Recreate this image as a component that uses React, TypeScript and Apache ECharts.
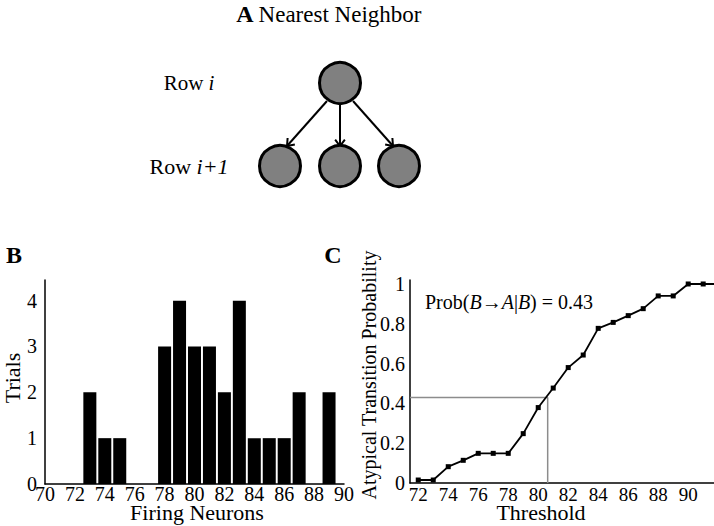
import React, { useEffect, useRef } from "react";
import * as echarts from "echarts";

// Panel B: histogram of firing neurons
const firingNeurons = [70, 71, 72, 73, 74, 75, 76, 77, 78, 79, 80, 81, 82, 83, 84, 85, 86, 87, 88, 89, 90];
const trials = [0, 0, 0, 2, 1, 1, 0, 0, 3, 4, 3, 3, 2, 4, 1, 1, 1, 2, 0, 2, 0];

// Panel C: atypical transition probability vs threshold
const thresholds = [72, 73, 74, 75, 76, 77, 78, 79, 80, 81, 82, 83, 84, 85, 86, 87, 88, 89, 90, 91, 92];
const atypicalProb = [0.015, 0.015, 0.082, 0.114, 0.149, 0.149, 0.149, 0.248, 0.379, 0.477, 0.58, 0.643, 0.777, 0.807, 0.841, 0.876, 0.94, 0.94, 1, 1, 1];
const cXTicks = [72, 74, 76, 78, 80, 82, 84, 86, 88, 90];
const crossThreshold = 80.63;
const crossProb = 0.43;
const cXMin = 71.45;
const cXMax = 91.72;

const FONT = "Liberation Serif";

function arrowHead(tx: number, ty: number, fx: number, fy: number, len: number, ang: number) {
  const dx = fx - tx;
  const dy = fy - ty;
  const d = Math.sqrt(dx * dx + dy * dy);
  const ux = dx / d;
  const uy = dy / d;
  const rot = (a: number) => [
    tx + len * (ux * Math.cos(a) - uy * Math.sin(a)),
    ty + len * (ux * Math.sin(a) + uy * Math.cos(a)),
  ];
  return [rot(ang), [tx, ty], rot(-ang)];
}

export default function App() {
  const ref = useRef<HTMLDivElement>(null);
  useEffect(() => {
    document.body.style.margin = "0";
    if (!ref.current) return;
    const chart = echarts.init(ref.current, null, { renderer: "svg" });

    const axisLineStyle = { color: "#000", width: 1.5 };

    const arrows: any[] = [];
    const arrowDefs = [
      [327, 101, 287, 146],
      [340, 104, 340, 146],
      [353, 101, 393, 146],
    ];
    arrowDefs.forEach(([x1, y1, x2, y2]) => {
      arrows.push({
        type: "line",
        shape: { x1, y1, x2, y2 },
        style: { stroke: "#000", lineWidth: 2 },
      });
      arrows.push({
        type: "polyline",
        shape: { points: arrowHead(x2, y2, x1, y1, 8, 0.65) },
        style: { stroke: "#000", lineWidth: 2, fill: null },
      });
    });

    const circles = [
      [340, 83],
      [280, 166],
      [340, 166],
      [399, 166],
    ].map(([cx, cy]) => ({
      type: "circle",
      shape: { cx, cy, r: 20.5 },
      style: { fill: "#808080", stroke: "#000", lineWidth: 3 },
      z: 10,
    }));

    chart.setOption({
      animation: false,
      backgroundColor: "#fff",
      textStyle: { fontFamily: FONT, color: "#000" },
      grid: [
        { left: 45, right: 370, top: 280, bottom: 42 },
        { left: 410, right: 0, top: 280, bottom: 43 },
      ],
      xAxis: [
        {
          gridIndex: 0,
          type: "value",
          min: 70,
          max: 90,
          interval: 2,
          splitLine: { show: false },
          axisLine: { lineStyle: axisLineStyle },
          axisTick: { show: false },
          axisLabel: { color: "#000", fontFamily: FONT, fontSize: 20, lineHeight: 16, margin: 2 },
        },
        {
          gridIndex: 1,
          type: "value",
          min: cXMin,
          max: cXMax,
          splitLine: { show: false },
          axisLine: { lineStyle: axisLineStyle },
          axisTick: { show: false },
          axisLabel: { color: "#000", fontFamily: FONT, fontSize: 19, lineHeight: 15, margin: 4, customValues: cXTicks },
        },
      ],
      yAxis: [
        {
          gridIndex: 0,
          type: "value",
          min: 0,
          max: 4.45,
          interval: 1,
          splitLine: { show: false },
          axisLine: { show: true, lineStyle: axisLineStyle },
          axisTick: { show: false },
          axisLabel: { color: "#000", fontFamily: FONT, fontSize: 20, margin: 8, showMaxLabel: false },
        },
        {
          gridIndex: 1,
          type: "value",
          min: 0,
          max: 1.02,
          interval: 0.2,
          splitLine: { show: false },
          axisLine: { show: true, lineStyle: axisLineStyle },
          axisTick: { show: false },
          axisLabel: { color: "#000", fontFamily: FONT, fontSize: 20, margin: 5, showMaxLabel: false },
        },
      ],
      series: [
        {
          type: "bar",
          xAxisIndex: 0,
          yAxisIndex: 0,
          data: firingNeurons.map((x, i) => [x, trials[i]]),
          barWidth: 13,
          itemStyle: { color: "#000" },
          clip: true,
        },
        {
          type: "line",
          xAxisIndex: 1,
          yAxisIndex: 1,
          data: [
            [cXMin, crossProb],
            [crossThreshold, crossProb],
            [crossThreshold, 0],
          ],
          symbol: "none",
          lineStyle: { color: "#8c8c8c", width: 1.5 },
          z: 1,
        },
        {
          type: "line",
          xAxisIndex: 1,
          yAxisIndex: 1,
          data: thresholds.map((x, i) => [x, atypicalProb[i]]),
          symbol: "rect",
          symbolSize: 5,
          lineStyle: { color: "#000", width: 1.8 },
          itemStyle: { color: "#000" },
          clip: true,
          z: 3,
        },
      ],
      graphic: [
        // Panel letters
        { type: "text", x: 245, y: 14, style: { text: "A", fontFamily: FONT, fontWeight: "bold", fontSize: 24, fill: "#000", align: "center", verticalAlign: "middle" } },
        { type: "text", x: 14, y: 255, style: { text: "B", fontFamily: FONT, fontWeight: "bold", fontSize: 24, fill: "#000", align: "center", verticalAlign: "middle" } },
        { type: "text", x: 333, y: 255, style: { text: "C", fontFamily: FONT, fontWeight: "bold", fontSize: 24, fill: "#000", align: "center", verticalAlign: "middle" } },
        // Panel A
        { type: "text", x: 340, y: 14, style: { text: "Nearest Neighbor", fontFamily: FONT, fontSize: 23, fill: "#000", align: "center", verticalAlign: "middle" } },
        {
          type: "text", x: 189, y: 83,
          style: {
            text: "{n|Row }{i|i}", align: "center", verticalAlign: "middle",
            rich: {
              n: { fontFamily: FONT, fontSize: 21, fill: "#000" },
              i: { fontFamily: FONT, fontSize: 21, fontStyle: "italic", fill: "#000" },
            },
          },
        },
        {
          type: "text", x: 189, y: 166,
          style: {
            text: "{n|Row }{i|i+1}", align: "center", verticalAlign: "middle",
            rich: {
              n: { fontFamily: FONT, fontSize: 22, fill: "#000" },
              i: { fontFamily: FONT, fontSize: 22, fontStyle: "italic", fill: "#000" },
            },
          },
        },
        ...arrows,
        ...circles,
        // Panel B titles
        { type: "text", x: 197, y: 512, style: { text: "Firing Neurons", fontFamily: FONT, fontSize: 22, lineHeight: 16, fill: "#000", align: "center", verticalAlign: "middle" } },
        { type: "text", x: 12, y: 378, rotation: Math.PI / 2, style: { text: "Trials", fontFamily: FONT, fontSize: 22, fill: "#000", align: "center", verticalAlign: "middle" } },
        // Panel C titles
        { type: "text", x: 541, y: 512, style: { text: "Threshold", fontFamily: FONT, fontSize: 22, lineHeight: 16, fill: "#000", align: "center", verticalAlign: "middle" } },
        { type: "text", x: 369, y: 375, rotation: Math.PI / 2, style: { text: "Atypical Transition Probability", fontFamily: FONT, fontSize: 20, fill: "#000", align: "center", verticalAlign: "middle" } },
        {
          type: "text", x: 425, y: 302,
          style: {
            text: "{n|Prob(}{i|B}{n|\u2192}{i|A}{n||}{i|B}{n|) = 0.43}", align: "left", verticalAlign: "middle",
            rich: {
              n: { fontFamily: FONT, fontSize: 20, fill: "#000" },
              i: { fontFamily: FONT, fontSize: 20, fontStyle: "italic", fill: "#000" },
            },
          },
        },
      ],
    });
    return () => chart.dispose();
  }, []);
  return <div ref={ref} style={{ width: 714, height: 526 }} />;
}
